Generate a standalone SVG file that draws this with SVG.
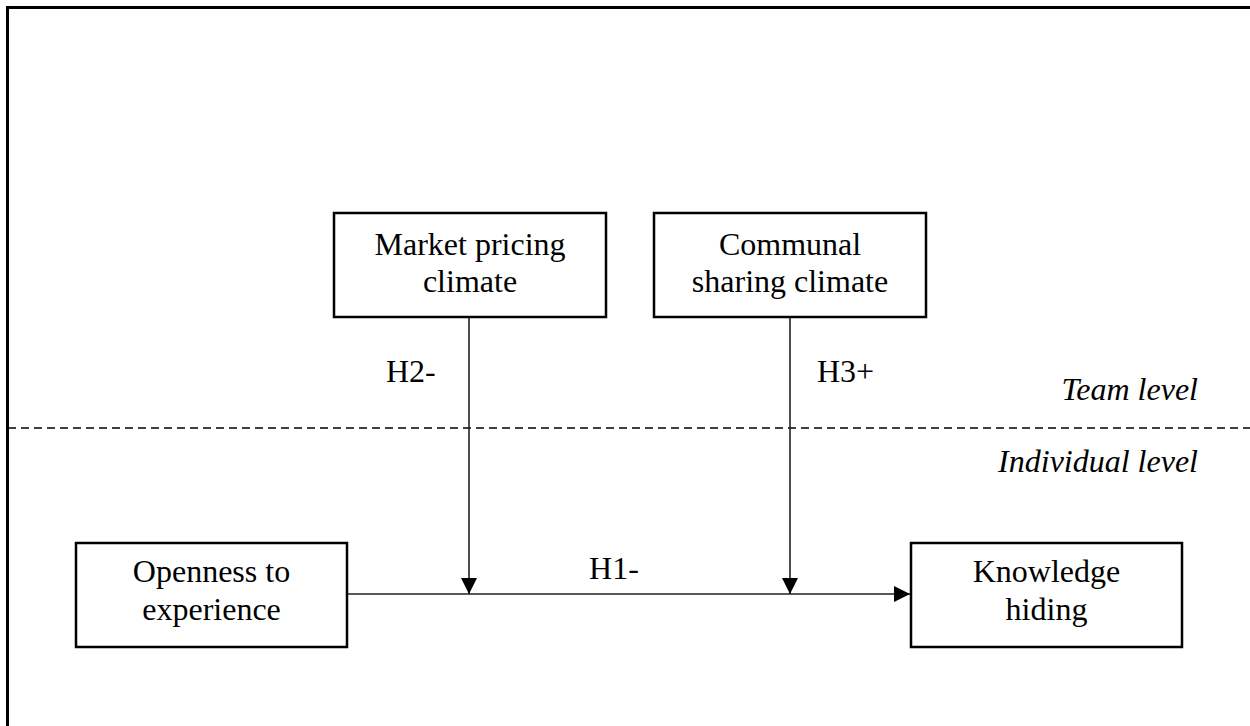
<svg xmlns="http://www.w3.org/2000/svg" width="1250" height="726" viewBox="0 0 1250 726">
<style>
.box{fill:#fff;stroke:#000;stroke-width:2.5}
.t{font-family:"Liberation Serif","Times New Roman",serif;font-size:32px;fill:#000}
.c{text-anchor:middle}
.i{font-style:italic}
.ln{stroke:#222;stroke-width:1.6;fill:none}
</style>
<defs>
<marker id="ah" viewBox="0 0 16 16" refX="16" refY="8" markerWidth="16" markerHeight="16" markerUnits="userSpaceOnUse" orient="auto">
<path d="M0,0 L16,8 L0,16 Z" fill="#000"/>
</marker>
</defs>
<rect width="1250" height="726" fill="#fff"/>
<g id="frame">
<line x1="6" y1="7.5" x2="1250" y2="7.5" stroke="#000" stroke-width="3"/>
<line x1="7.5" y1="6" x2="7.5" y2="726" stroke="#000" stroke-width="3"/>
<line x1="8" y1="428" x2="1250" y2="428" stroke="#000" stroke-width="1.6" stroke-dasharray="8,5"/>
</g>
<g id="connectors">
<line class="ln" x1="347" y1="594" x2="910" y2="594" marker-end="url(#ah)"/>
<line class="ln" x1="469" y1="317" x2="469" y2="594" marker-end="url(#ah)"/>
<line class="ln" x1="790" y1="317" x2="790" y2="594" marker-end="url(#ah)"/>
</g>
<g id="market">
<rect class="box" x="334" y="213" width="272" height="104"/>
<text class="t c" x="470" y="255">Market pricing</text>
<text class="t c" x="470" y="292">climate</text>
</g>
<g id="communal">
<rect class="box" x="654" y="213" width="272" height="104"/>
<text class="t c" x="790" y="255">Communal</text>
<text class="t c" x="790" y="292">sharing climate</text>
</g>
<g id="openness">
<rect class="box" x="76" y="543" width="271" height="104"/>
<text class="t c" x="211.5" y="582">Openness to</text>
<text class="t c" x="211.5" y="620">experience</text>
</g>
<g id="knowledge">
<rect class="box" x="911" y="543" width="271" height="104"/>
<text class="t c" x="1046.5" y="582">Knowledge</text>
<text class="t c" x="1046.5" y="620">hiding</text>
</g>
<g id="labels">
<text class="t" x="386" y="382">H2-</text>
<text class="t" x="817" y="382">H3+</text>
<text class="t c" x="614" y="579">H1-</text>
<text class="t i" x="1198" y="400" text-anchor="end">Team level</text>
<text class="t i" x="1198" y="472" text-anchor="end">Individual level</text>
</g>
</svg>
